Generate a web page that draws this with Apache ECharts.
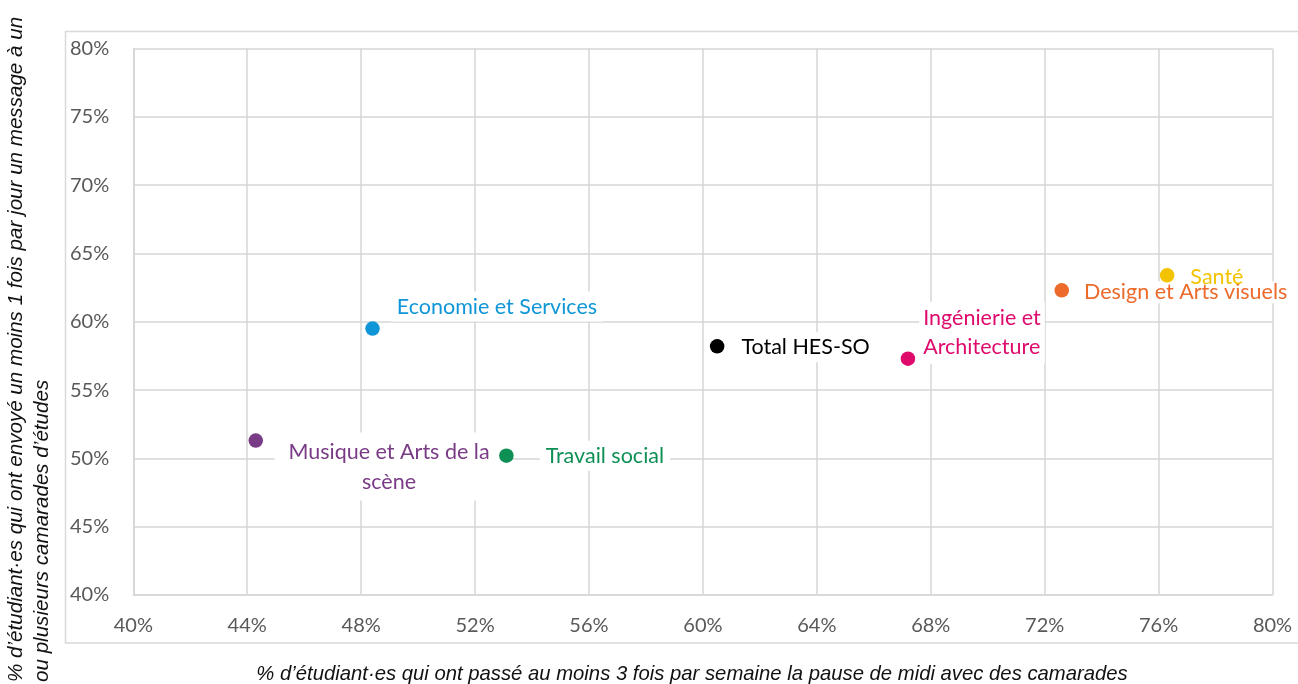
<!DOCTYPE html>
<html>
<head>
<meta charset="utf-8">
<script src="https://cdn.jsdelivr.net/npm/echarts@6/dist/echarts.min.js"></script>
<style>
html,body{margin:0;padding:0;background:#fff;}
#chart{width:1298px;height:684px;}
</style>
</head>
<body>
<div id="chart"></div>
<script>
// ---- data ----
const names = ['Economie et Services', 'Musique et Arts de la scène', 'Travail social', 'Total HES-SO', 'Ingénierie et Architecture', 'Design et Arts visuels', 'Santé'];
const xValues = [48.4, 44.3, 53.1, 60.5, 67.2, 72.6, 76.3];
const yValues = [59.5, 51.3, 50.2, 58.2, 57.3, 62.3, 63.4];
const xTicks = [40, 44, 48, 52, 56, 60, 64, 68, 72, 76, 80];
const yTicks = [40, 45, 50, 55, 60, 65, 70, 75, 80];
const xTitle = '% d\u2019étudiant·es qui ont passé au moins 3 fois par semaine la pause de midi avec des camarades';
const yTitle1 = '% d\u2019étudiant·es qui ont envoyé un moins 1 fois par jour un message à un';
const yTitle2 = 'ou plusieurs camarades d\u2019études';

// ---- styles / layout ----
const colors = {
  'Economie et Services': '#0f96d8',
  'Musique et Arts de la scène': '#7a3b86',
  'Travail social': '#0e9055',
  'Total HES-SO': '#000000',
  'Ingénierie et Architecture': '#de0a6c',
  'Design et Arts visuels': '#ec6a2a',
  'Santé': '#f4c300'
};
const labelLayout = {
  'Economie et Services': {text: 'Economie et Services', offset: [11, -22], align: 'left', pad: [2, 6, 2, 6], lh: 26, bg: '#fff'},
  'Musique et Arts de la scène': {text: 'Musique et Arts de la\nscène', offset: [126, 26], align: 'center', pad: [4, 14, 4, 14], lh: 30, bg: '#fff'},
  'Travail social': {text: 'Travail social', offset: [26, 0], align: 'left', pad: [2, 6, 2, 6], lh: 26, bg: '#fff'},
  'Total HES-SO': {text: 'Total HES-SO', offset: [13, 1], align: 'left', pad: [2, 4, 2, 4], lh: 26, bg: '#fff'},
  'Ingénierie et Architecture': {text: 'Ingénierie et\nArchitecture', offset: [4, -26], align: 'left', pad: [2, 4, 2, 4], lh: 29, bg: '#fff'},
  'Design et Arts visuels': {text: 'Design et Arts visuels', offset: [11, 2], align: 'left', pad: [0, 4, 0, 4], lh: 22, bg: '#fff'},
  'Santé': {text: 'Santé', offset: [12, 2], align: 'left', pad: [0, 4, 0, 4], lh: 22, bg: 'transparent'}
};
const FONT = 'Lato, "Open Sans", sans-serif';
const TITLE_FONT = '"Liberation Sans", Arial, sans-serif';

const series = names.map((n, i) => {
  const L = labelLayout[n];
  return {
    type: 'scatter',
    name: n,
    z: 2 + i,
    symbol: 'circle',
    symbolSize: 14.5,
    itemStyle: {color: colors[n], opacity: 1},
    label: {
      show: true,
      formatter: L.text,
      position: 'right',
      distance: 0,
      offset: L.offset,
      align: L.align,
      color: colors[n],
      fontFamily: FONT,
      fontSize: 21.5,
      lineHeight: L.lh,
      backgroundColor: L.bg,
      padding: L.pad
    },
    data: [[xValues[i], yValues[i]]]
  };
});

const chart = echarts.init(document.getElementById('chart'), null, {renderer: 'canvas'});
chart.setOption({
  animation: false,
  backgroundColor: '#ffffff',
  grid: {left: 133.3, right: 25.5, top: 48.5, bottom: 89, containLabel: false},
  xAxis: {
    type: 'value', min: xTicks[0], max: xTicks[xTicks.length - 1], interval: 4,
    axisLine: {show: true, lineStyle: {color: '#d6d6d6', width: 1.5}},
    axisTick: {show: false},
    splitLine: {show: true, lineStyle: {color: '#d6d6d6', width: 1.5}},
    axisLabel: {formatter: '{value}%', color: '#595959', fontFamily: FONT, fontSize: 20, margin: 21}
  },
  yAxis: {
    type: 'value', min: yTicks[0], max: yTicks[yTicks.length - 1], interval: 5,
    axisLine: {show: true, lineStyle: {color: '#d6d6d6', width: 1.5}},
    axisTick: {show: false},
    splitLine: {show: true, lineStyle: {color: '#d6d6d6', width: 1.5}},
    axisLabel: {formatter: '{value}%', color: '#595959', fontFamily: FONT, fontSize: 20, margin: 63.3, align: 'left'}
  },
  graphic: [
    {type: 'rect', z: -10, silent: true, shape: {x: 65.5, y: 31.5, width: 1245, height: 611.5},
     style: {fill: 'none', stroke: '#d9d9d9', lineWidth: 1.5}},
    {type: 'text', x: 692, y: 674, silent: true,
     style: {text: xTitle, fill: '#111', font: 'italic 20.3px ' + TITLE_FONT, textAlign: 'center', textVerticalAlign: 'middle'}},
    {type: 'text', x: 16, y: 682, rotation: Math.PI / 2, silent: true,
     style: {text: yTitle1, fill: '#111', font: 'italic 20.6px ' + TITLE_FONT, textAlign: 'left', textVerticalAlign: 'middle'}},
    {type: 'text', x: 42, y: 682, rotation: Math.PI / 2, silent: true,
     style: {text: yTitle2, fill: '#111', font: 'italic 20.6px ' + TITLE_FONT, textAlign: 'left', textVerticalAlign: 'middle'}}
  ],
  series: series
});
</script>
</body>
</html>
